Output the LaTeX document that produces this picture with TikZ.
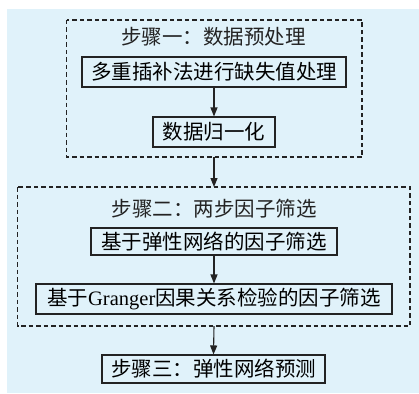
\documentclass[tikz,border=0pt]{standalone}
\usepackage{fontspec}
\setmainfont{Liberation Serif}
\newfontfamily\cjk{Noto Sans CJK SC}
\usetikzlibrary{arrows.meta}
\definecolor{bgblue}{RGB}{224,242,250}
\definecolor{ink}{RGB}{35,35,35}
\tikzset{
  box/.style={draw=ink, line width=1.1pt, inner sep=0pt, font=\fontsize{20.5}{20.5}\selectfont},
  grp/.style={draw=ink, line width=1.1pt, dash pattern=on 4.5pt off 3pt},
  lbl/.style={inner sep=0pt, text=ink, font=\fontsize{20.5}{20.5}\selectfont},
  arr/.style={draw=ink, line width=1.1pt, -{Triangle[length=9pt,width=7pt]}}
}
\begin{document}
\begin{tikzpicture}[x=1pt,y=-1pt]
\useasboundingbox (0,0) rectangle (419,393);
\fill[bgblue] (7,9) rectangle (419,393);
% group 1
\draw[grp] (66.5,20) rectangle (362,157);
\node[lbl] (t1) at (213.5,37) {\cjk 步骤一：数据预处理};
\node[box, minimum width=264pt, minimum height=30pt] (b1) at (214,72) {\cjk 多重插补法进行缺失值处理};
\node[box, minimum width=122pt, minimum height=30pt] (b2) at (214,132) {\cjk 数据归一化};
\coordinate (g1b) at (214,157);
% group 2
\draw[grp] (17.5,187) rectangle (410,326);
\coordinate (g2t) at (214,187);
\coordinate (g2b) at (214,326);
\node[lbl] (t2) at (214,209) {\cjk 步骤二：两步因子筛选};
\node[box, minimum width=246pt, minimum height=27pt] (b3) at (214,241.5) {\cjk 基于弹性网络的因子筛选};
\node[box, minimum width=356pt, minimum height=30pt] (b4) at (214,299) {\cjk 基于\rmfamily Granger\cjk 因果关系检验的因子筛选};
\node[box, minimum width=223pt, minimum height=28pt] (b5) at (213.5,369) {\cjk 步骤三：弹性网络预测};
% arrows
\draw[arr] (b1.south) -- (b2.north);
\draw[arr] (g1b) -- (g2t);
\draw[arr] (b3.south) -- (b4.north);
\draw[arr] (g2b) -- (b5.north);
\end{tikzpicture}
\end{document}
